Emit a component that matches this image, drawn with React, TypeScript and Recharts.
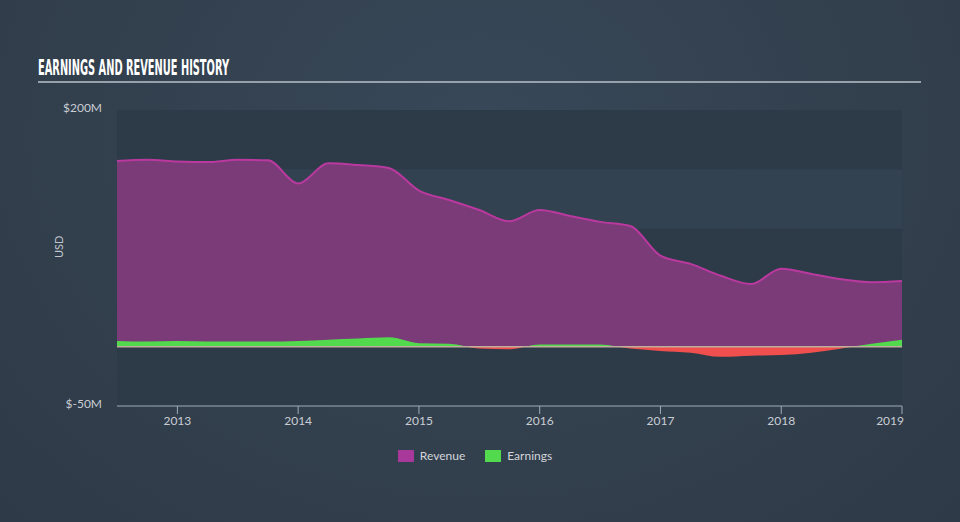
import { Area, AreaChart, ReferenceArea, ReferenceLine, XAxis, YAxis } from "recharts";

// quarter points as decimal years
const periods = [
  2012.5, 2012.75, 2013.0, 2013.25, 2013.5, 2013.75, 2014.0, 2014.25, 2014.5, 2014.75,
  2015.0, 2015.25, 2015.5, 2015.75, 2016.0, 2016.25, 2016.5, 2016.75, 2017.0, 2017.25,
  2017.5, 2017.75, 2018.0, 2018.25, 2018.5, 2018.75, 2019.0,
];
// USD millions
const revenue = [
  157, 158, 156.5, 156, 158, 157.5, 138, 155, 153.5, 151,
  132, 124, 115.5, 106, 115.5, 110.5, 105.5, 102, 77, 70,
  60, 53, 66, 61.5, 57, 54.5, 55.5,
];
const earnings = [
  5, 4.5, 5, 4.5, 4.5, 4.5, 5, 6, 7, 8,
  3, 2.5, -1.5, -2, 2, 2, 2, -1.5, -3.5, -5,
  -8.5, -7.5, -7, -5, -1.5, 2.5, 6,
];
const yearTicks = [2013, 2014, 2015, 2016, 2017, 2018, 2019];
const valueTicks = [-50, 200];
const bandEdges = [-50, 0, 50, 100, 150, 200];
const seriesNames = ["Revenue", "Earnings"];

const data = periods.map((p, i) => ({ t: p, revenue: revenue[i], earnings: earnings[i] }));

const eMax = Math.max(...earnings);
const eMin = Math.min(...earnings);
const zeroOffset = eMax / (eMax - eMin);

const FONT = "Lato, 'Open Sans', sans-serif";

function YearTick(props: any) {
  const { x, y, payload } = props;
  const last = payload.value === yearTicks[yearTicks.length - 1];
  return (
    <text x={last ? x + 2 : x} y={y} dy="0.71em" textAnchor={last ? "end" : "middle"} fill="#c9ced4" fontSize={12} fontFamily={FONT}>
      {payload.value}
    </text>
  );
}

export default function App() {
  return (
    <div
      style={{
        position: "absolute",
        top: 0,
        left: 0,
        width: 960,
        height: 522,
        background: "radial-gradient(ellipse at 50% 25%, #384858 0%, #323f4d 60%, #2e3a47 100%)",
        overflow: "hidden",
      }}
    >
      <svg width={960} height={90} style={{ position: "absolute", top: 0, left: 0 }}>
        <text
          x={38}
          y={75}
          textLength={191}
          lengthAdjust="spacingAndGlyphs"
          fill="#ffffff"
          fontSize={21}
          fontWeight={700}
          fontFamily="'Liberation Sans Narrow', 'DejaVu Sans Condensed', sans-serif"
        >
          EARNINGS AND REVENUE HISTORY
        </text>
        <line x1={38} x2={921} y1={82} y2={82} stroke="#97a1ab" strokeWidth={2} />
      </svg>

      <div style={{ position: "absolute", top: 0, left: 0 }}>
        <AreaChart width={960} height={522} data={data} margin={{ top: 110, right: 58, bottom: 86, left: 57 }}>
          <defs>
            <linearGradient id="earnFill" x1="0" y1="0" x2="0" y2="1">
              <stop offset={zeroOffset} stopColor="#52d94d" />
              <stop offset={zeroOffset} stopColor="#f04f4d" />
            </linearGradient>
          </defs>
          <XAxis
            dataKey="t"
            type="number"
            domain={[periods[0], periods[periods.length - 1]]}
            ticks={yearTicks}
            tick={<YearTick />}
            stroke="#9eabb8"
            tickSize={8}
            tickMargin={2}
          />
          <YAxis
            domain={[bandEdges[0], bandEdges[bandEdges.length - 1]]}
            ticks={valueTicks}
            width={60}
            axisLine={false}
            tickLine={false}
            tickSize={0}
            tickMargin={15}
            tickFormatter={(v: number) => `$${v}M`}
            tick={{ fill: "#c9ced4", fontSize: 12, fontFamily: FONT, dy: -2 }}
            label={{ value: "USD", angle: -90, position: "insideLeft", offset: 0, dx: 2, fill: "#c0c6cc", fontSize: 11, fontFamily: FONT }}
          />
          {bandEdges.slice(0, -1).map((edge, i) => (
            <ReferenceArea
              key={edge}
              y1={edge}
              y2={bandEdges[i + 1]}
              fill={i % 2 === 0 ? "#2d3b49" : "#334250"}
              fillOpacity={1}
              stroke="none"
            />
          ))}
          <Area
            type="monotone"
            dataKey="revenue"
            stroke="#b9399f"
            strokeWidth={2}
            fill="#7b3a78"
            fillOpacity={1}
            isAnimationActive={false}
          />
          <ReferenceLine y={0} stroke="#bfae9c" strokeWidth={1.5} />
          <Area
            type="monotone"
            dataKey="earnings"
            stroke="none"
            fill="url(#earnFill)"
            fillOpacity={1}
            isAnimationActive={false}
          />
        </AreaChart>
      </div>

      <div
        style={{
          position: "absolute",
          top: 448,
          left: 0,
          width: 960,
          display: "flex",
          justifyContent: "center",
          gap: 20,
          fontFamily: FONT,
          fontSize: 12,
          color: "#d2d6da",
        }}
      >
        {seriesNames.map((name, i) => (
          <div key={name} style={{ display: "flex", alignItems: "center", gap: 6, marginLeft: i === 0 ? -10 : 0 }}>
            <span style={{ display: "inline-block", width: 16, height: 12, background: i === 0 ? "#a8389a" : "#52d94d" }} />
            <span>{name}</span>
          </div>
        ))}
      </div>
    </div>
  );
}
